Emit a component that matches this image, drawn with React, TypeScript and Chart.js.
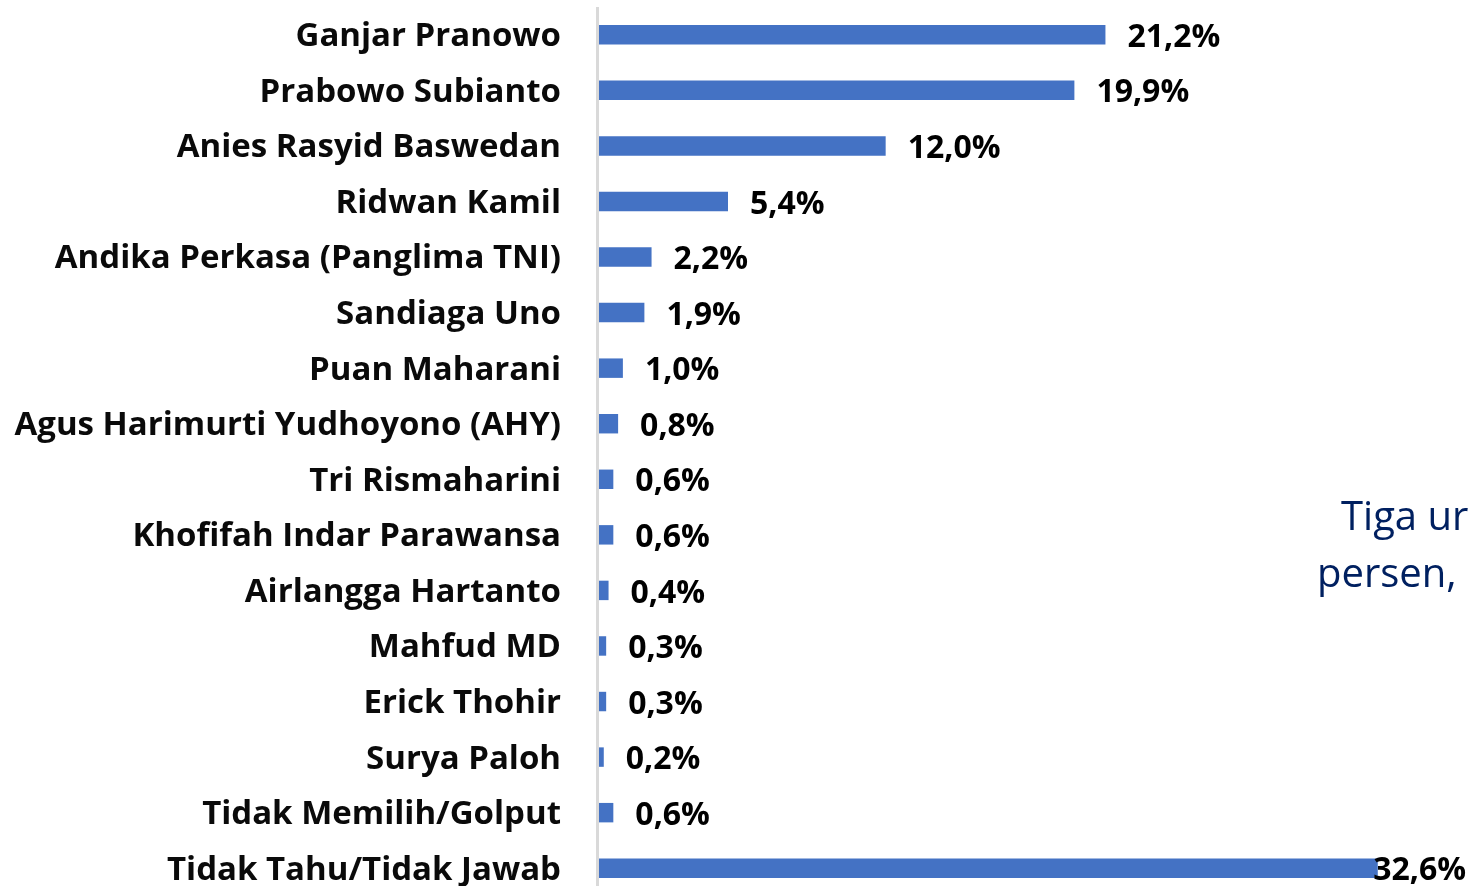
import React, { useEffect, useRef } from "react";
import { Chart, registerables } from "chart.js";

Chart.register(...registerables);

const categories = [
  "Ganjar Pranowo",
  "Prabowo Subianto",
  "Anies Rasyid Baswedan",
  "Ridwan Kamil",
  "Andika Perkasa (Panglima TNI)",
  "Sandiaga Uno",
  "Puan Maharani",
  "Agus Harimurti Yudhoyono (AHY)",
  "Tri Rismaharini",
  "Khofifah Indar Parawansa",
  "Airlangga Hartanto",
  "Mahfud MD",
  "Erick Thohir",
  "Surya Paloh",
  "Tidak Memilih/Golput",
  "Tidak Tahu/Tidak Jawab",
];

const values = [21.2, 19.9, 12.0, 5.4, 2.2, 1.9, 1.0, 0.8, 0.6, 0.6, 0.4, 0.3, 0.3, 0.2, 0.6, 32.6];

const sideText = ["Tiga ur", "persen,"];

const FONT = "'Open Sans', Lato, sans-serif";

const valueLabels = {
  id: "valueLabels",
  afterDatasetsDraw(chart: any) {
    const ctx = chart.ctx;
    const meta = chart.getDatasetMeta(0);
    ctx.save();
    ctx.font = `bold 32px ${FONT}`;
    ctx.fillStyle = "#000000";
    ctx.textBaseline = "middle";
    ctx.textAlign = "left";
    meta.data.forEach((bar: any, i: number) => {
      const txt = values[i].toFixed(1).replace(".", ",") + "%";
      const w = ctx.measureText(txt).width;
      let x = bar.x + 22;
      const maxX = chart.width - 4 - w;
      if (x > maxX) x = maxX;
      ctx.fillText(txt, x, bar.y + 3);
    });
    ctx.restore();
  },
};

const axisLine = {
  id: "axisLine",
  beforeDatasetsDraw(chart: any) {
    const ctx = chart.ctx;
    const a = chart.chartArea;
    ctx.save();
    ctx.fillStyle = "#d9d9d9";
    ctx.fillRect(a.left - 3, 7, 3, chart.height);
    ctx.restore();
  },
};

export default function App() {
  const ref = useRef<HTMLCanvasElement | null>(null);
  useEffect(() => {
    if (!ref.current) return;
    const chart = new Chart(ref.current, {
      type: "bar",
      data: {
        labels: categories,
        datasets: [
          {
            data: values,
            backgroundColor: "#4472c4",
            borderWidth: 0,
            barPercentage: 0.35,
            categoryPercentage: 1,
          },
        ],
      },
      options: {
        indexAxis: "y",
        animation: false,
        responsive: false,
        layout: { padding: { top: 7, right: 11, bottom: 0, left: 0 } },
        plugins: { legend: { display: false }, tooltip: { enabled: false } },
        scales: {
          x: { display: false, min: 0, max: 36 },
          y: {
            afterFit(scale: any) {
              scale.width = 599;
              scale.paddingTop = 0;
              scale.paddingBottom = 0;
            },
            grid: { display: false, drawTicks: false },
            border: { display: false },
            ticks: {
              padding: 38,
              labelOffset: 2,
              color: "#0a0a0a",
              font: { family: FONT, weight: "bold", size: 33 },
            },
          },
        },
      },
      plugins: [axisLine, valueLabels],
    });
    return () => chart.destroy();
  }, []);
  return (
    <div style={{ position: "fixed", left: 0, top: 0, width: 1470, height: 886, overflow: "hidden", background: "#fff" }}>
      <canvas ref={ref} width={1470} height={896} style={{ display: "block" }} />
      <div
        style={{
          position: "absolute",
          left: 1341,
          top: 486,
          fontFamily: FONT,
          fontSize: 40,
          lineHeight: "57px",
          color: "#002060",
          whiteSpace: "nowrap",
        }}
      >
        {sideText[0]}
      </div>
      <div
        style={{
          position: "absolute",
          left: 1317,
          top: 543,
          fontFamily: FONT,
          fontSize: 40,
          lineHeight: "57px",
          color: "#002060",
          whiteSpace: "nowrap",
        }}
      >
        {sideText[1]}
      </div>
    </div>
  );
}
